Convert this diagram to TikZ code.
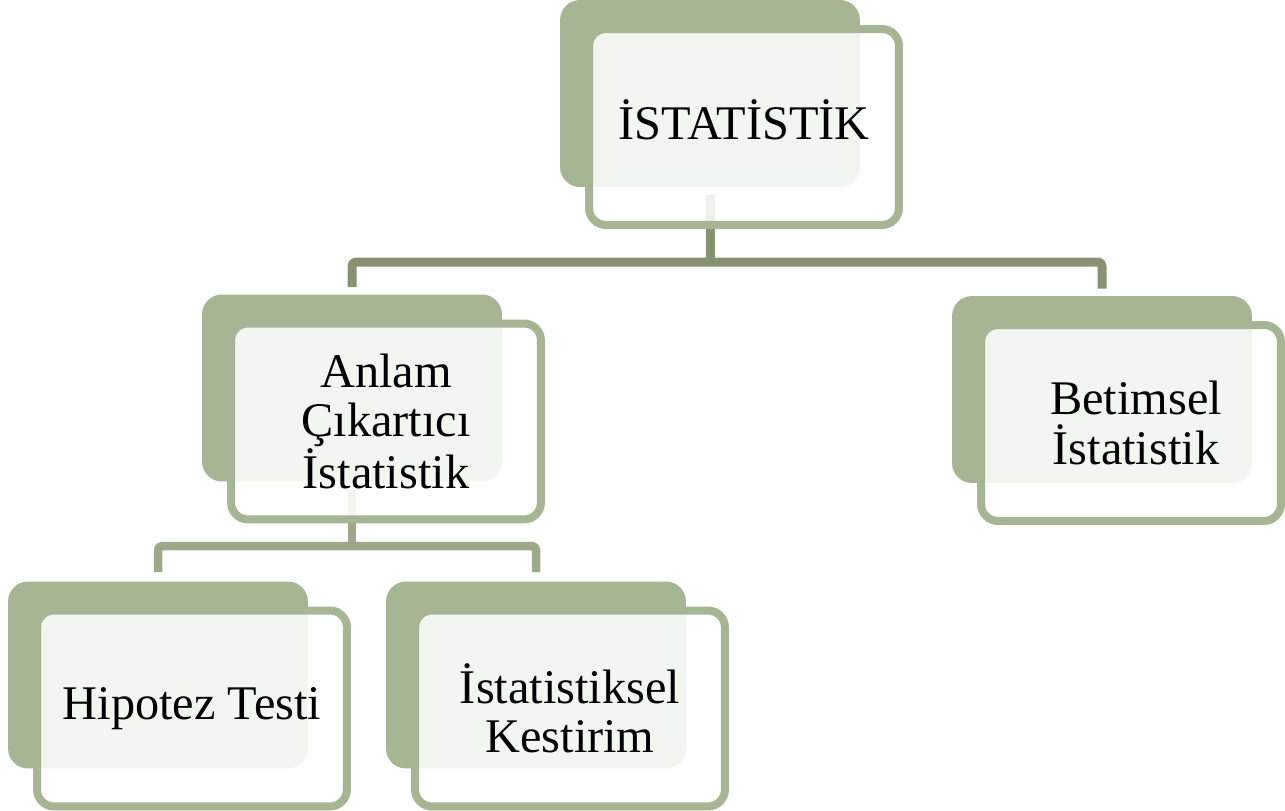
\documentclass[tikz,border=0pt]{standalone}
\usepackage{fontspec}
\setmainfont{Liberation Serif}
\definecolor{sage}{RGB}{166,181,148}
\definecolor{trunkgreen}{RGB}{135,146,115}
\definecolor{twiggreen}{RGB}{156,170,137}
\begin{document}
\begin{tikzpicture}[x=0.02cm,y=-0.02cm,line join=round,
  backcard/.style={fill=sage,rounded corners=0.4cm,minimum width=6cm,minimum height=3.74cm,inner sep=0pt},
  frontcard/.style={draw=sage,line width=0.16cm,fill=white,fill opacity=0.87,text opacity=1,
    rounded corners=0.34cm,minimum width=6.2cm,minimum height=3.92cm,inner sep=0pt,
    align=center,font=\fontsize{27.5}{28.2}\selectfont},
  trunk/.style={draw=trunkgreen,line width=0.18cm},
  twig/.style={draw=twiggreen,line width=0.17cm}]
\useasboundingbox (0,0) rectangle (1285,811);
% back cards
\node[backcard] (istb) at (710,93.5) {};
\node[backcard] (anlamb) at (352,388) {};
\node[backcard] (betimb) at (1102,389.5) {};
\node[backcard] (hipb) at (158,675) {};
\node[backcard] (kestb) at (536,675) {};
% connectors
\coordinate (bus1) at (710,262);
\coordinate (bus2) at (352,546);
\draw[trunk] ([yshift=-0.16cm]istb.south) -- (bus1);
\draw[trunk,rounded corners=0.08cm] ([yshift=0.14cm]anlamb.north) |- (bus1) -| ([yshift=0.14cm]betimb.north);
\draw[twig] ([yshift=-0.16cm]anlamb.south) -- (bus2);
\draw[twig,rounded corners=0.08cm] ([yshift=0.18cm]hipb.north) |- (bus2) -| ([yshift=0.18cm]kestb.north);
% front cards
\node[frontcard,text depth=0.28cm] (ist) at ([shift={(0.68cm,-0.67cm)}]istb.center) {İSTATİSTİK};
\node[frontcard] (anlam) at ([shift={(0.68cm,-0.67cm)}]anlamb.center) {Anlam\\Çıkartıcı\\İstatistik};
\node[frontcard,minimum width=6cm] (betim) at ([shift={(0.58cm,-0.67cm)}]betimb.center) {\hspace{0.2cm}Betimsel\\\hspace{0.2cm}İstatistik};
\node[frontcard] (hip) at ([shift={(0.68cm,-0.67cm)}]hipb.center) {Hipotez Testi};
\node[frontcard] (kest) at ([shift={(0.68cm,-0.67cm)}]kestb.center) {İstatistiksel\\Kestirim};
\end{tikzpicture}
\end{document}
